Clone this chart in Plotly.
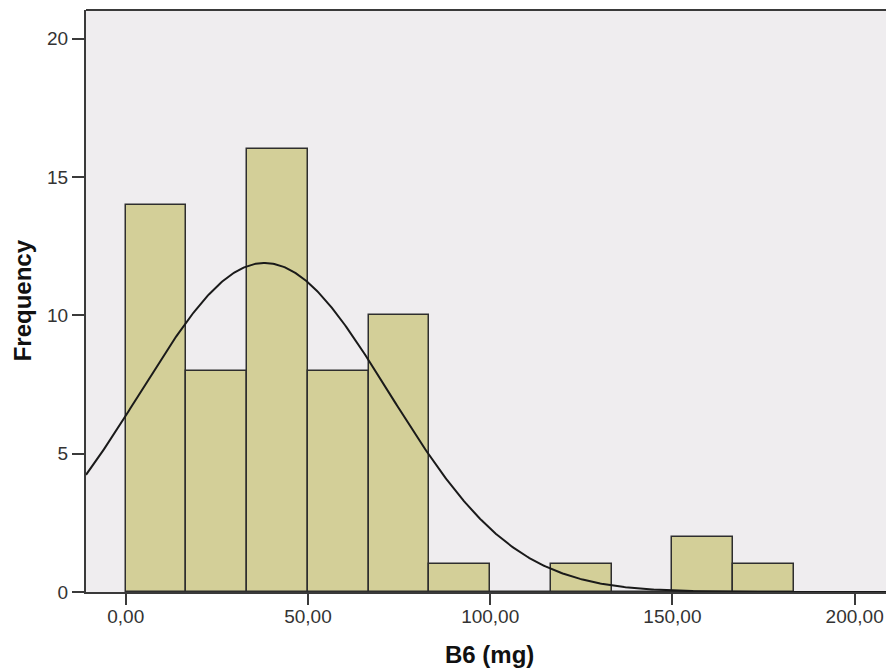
import numpy as np
import plotly.graph_objects as go

# Histogram of B6 intake (mg), bins of width 100/6 starting at 0
bin_start = 0.0
bin_width = 100.0 / 6.0
counts = [14, 8, 16, 8, 10, 1, 0, 1, 0, 2, 1]

# Fitted normal curve parameters
mean_b6 = 38.1
sd_b6 = 34.1
n_obs = sum(counts)

x_ticks = [0, 50, 100, 150, 200]
x_tick_labels = ["0,00", "50,00", "100,00", "150,00", "200,00"]
y_ticks = [0, 5, 10, 15, 20]

x_range = [-10.9, 208.6]
y_range = [0, 21.04]

centers = [bin_start + bin_width * (i + 0.5) for i in range(len(counts))]

xs = np.linspace(x_range[0], x_range[1], 600)
ys = n_obs * bin_width / (sd_b6 * np.sqrt(2 * np.pi)) * np.exp(-0.5 * ((xs - mean_b6) / sd_b6) ** 2)

AXIS = "#3a3a3a"
FONT = "Liberation Sans, Arial, sans-serif"

fig = go.Figure()
fig.add_trace(go.Bar(
    x=centers, y=counts, width=bin_width,
    marker=dict(color="#D3CF98", line=dict(color="#2e2e2e", width=1.5)),
    hoverinfo="x+y",
))
fig.add_trace(go.Scatter(
    x=xs, y=ys, mode="lines",
    line=dict(color="#1a1a1a", width=2),
    hoverinfo="skip",
))

# frame line along the top of the plot area
fig.add_shape(type="line", xref="paper", yref="paper", x0=0, x1=1, y0=1, y1=1,
              line=dict(color=AXIS, width=2))

# axis titles
fig.add_annotation(text="<b>B6 (mg)</b>", xref="paper", yref="paper",
                   x=0.504, y=-0.108, xanchor="center", yanchor="middle",
                   showarrow=False, font=dict(size=24, color="#111111"))
fig.add_annotation(text="<b>Frequency</b>", xref="paper", yref="paper",
                   x=-0.0794, y=0.502, xanchor="center", yanchor="middle",
                   textangle=-90, showarrow=False, font=dict(size=24, color="#111111"))

fig.update_layout(
    width=886, height=671,
    margin=dict(l=86, r=0, t=10, b=79),
    paper_bgcolor="white",
    plot_bgcolor="#EFEDEF",
    showlegend=False,
    bargap=0,
    font=dict(family=FONT, size=19, color="#333333"),
    xaxis=dict(
        range=x_range, tickvals=x_ticks, ticktext=x_tick_labels,
        showgrid=False, zeroline=False,
        showline=True, linecolor=AXIS, linewidth=2,
        ticks="outside", ticklen=11, tickwidth=2, tickcolor=AXIS,
        ticklabelstandoff=-5,
        tickfont=dict(size=19, color="#333333"),
    ),
    yaxis=dict(
        range=y_range, tickvals=y_ticks,
        showgrid=False, zeroline=False,
        showline=True, linecolor=AXIS, linewidth=2,
        ticks="outside", ticklen=12, tickwidth=2, tickcolor=AXIS,
        tickfont=dict(size=19, color="#333333"),
    ),
)

fig.write_html("out.html")
